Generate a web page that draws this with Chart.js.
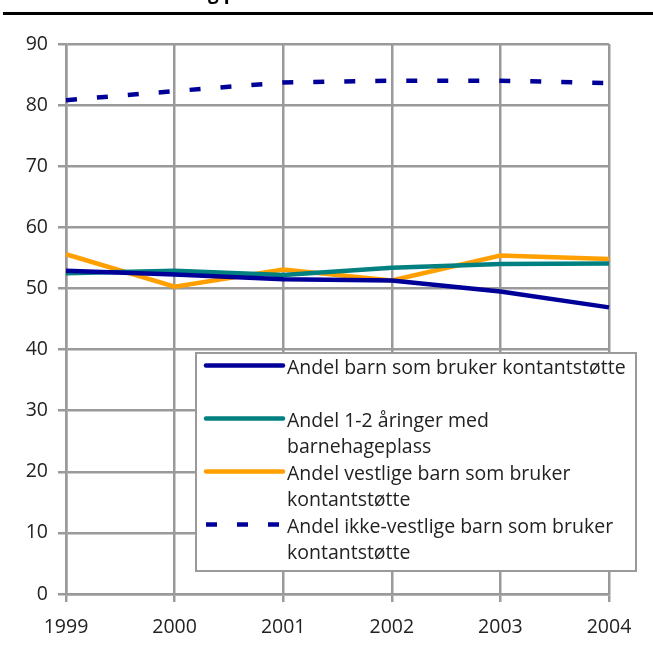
<!DOCTYPE html>
<html>
<head>
<meta charset="utf-8">
<script src="https://cdn.jsdelivr.net/npm/chart.js@4"></script>
<style>
  html, body { margin: 0; padding: 0; background: #fff; }
  #wrap { width: 653px; height: 648px; position: relative; }
</style>
</head>
<body>
<div id="wrap"><canvas id="lineChart"></canvas></div>
<script>
let years = ['1999', '2000', '2001', '2002', '2003', '2004'];
let kontant = [52.9, 52.3, 51.5, 51.3, 49.5, 46.9];
let barnehage = [52.5, 52.9, 52.2, 53.4, 54.0, 54.1];
let vestlige = [55.6, 50.3, 53.1, 51.3, 55.4, 54.8];
let ikkeVestlige = [80.8, 82.3, 83.7, 84.0, 84.0, 83.6];

let labels1 = [
  'Andel barn som bruker kontantstøtte\n',
  'Andel 1-2 åringer med\nbarnehageplass',
  'Andel vestlige barn som bruker\nkontantstøtte',
  'Andel ikke-vestlige barn som bruker\nkontantstøtte'
];
let colors1 = ['#000099', '#008080', '#ffa000', '#000099'];

let fontName = '"Open Sans", "Noto Sans", sans-serif';
let gridColor = '#9a9a9a';

// title sits above the top edge, only the rule and descenders show
let titlePlugin = {
  id: 'topTitle',
  afterDraw(chart) {
    let ctx = chart.ctx;
    ctx.save();
    ctx.font = 'bold 19px ' + fontName;
    ctx.fillStyle = '#000';
    ctx.textBaseline = 'alphabetic';
    let x = 208 - ctx.measureText('Utviklin').width;
    ctx.fillText('Utvikling på', x, -1);
    ctx.fillRect(3, 12, 650, 3);
    ctx.restore();
  }
};

// boxed legend with wrapped labels
let boxLegend = {
  id: 'boxLegend',
  afterDraw(chart) {
    let ctx = chart.ctx;
    let x0 = 196, y0 = 353, w = 440, h = 218;
    let rowH = 26.5, firstRow = 368;
    ctx.save();
    ctx.fillStyle = '#fff';
    ctx.fillRect(x0, y0, w, h);
    ctx.strokeStyle = gridColor;
    ctx.lineWidth = 2;
    ctx.strokeRect(x0, y0, w, h);
    ctx.font = '19.5px ' + fontName;
    ctx.fillStyle = '#222';
    ctx.textBaseline = 'middle';
    let row = 0;
    chart.data.datasets.forEach(ds => {
      let lines = ds.label.split('\n');
      let y = firstRow + row * rowH;
      ctx.beginPath();
      ctx.strokeStyle = ds.borderColor;
      ctx.lineWidth = 4.5;
      ctx.lineCap = ds.borderDash ? 'butt' : 'round';
      ctx.setLineDash(ds.borderDash || []);
      ctx.moveTo(206, y - 2.5);
      ctx.lineTo(283, y - 2.5);
      ctx.stroke();
      ctx.setLineDash([]);
      lines.forEach((t, i) => ctx.fillText(t, 287, y + i * rowH));
      row += lines.length;
    });
    ctx.restore();
  }
};

let myChart1 = document.getElementById('lineChart').getContext('2d');

let options = {
  responsive: true,
  maintainAspectRatio: false,
  animation: false,
  layout: { padding: { top: 44, right: 44, left: 0, bottom: 0 } },
  plugins: { legend: { display: false }, tooltip: { enabled: false } },
  elements: {
    point: { radius: 0 },
    line: { tension: 0, borderWidth: 4.5 }
  },
  scales: {
    x: {
      offset: false,
      grid: { color: gridColor, lineWidth: 2.5, tickLength: 8 },
      border: { color: gridColor, width: 2.5 },
      ticks: { color: '#222', font: { family: fontName, size: 19.5 }, padding: 14, maxRotation: 0 },
      afterFit(scale) { scale.height = 54; }
    },
    y: {
      min: 0,
      max: 90,
      grid: { color: gridColor, lineWidth: 2.5, tickLength: 8 },
      border: { color: gridColor, width: 2.5 },
      ticks: { stepSize: 10, color: '#222', font: { family: fontName, size: 19.5 }, padding: 10 },
      afterFit(scale) { scale.width = 66; }
    }
  }
};

let chart = new Chart(myChart1, {
  type: 'line',
  data: {
    labels: years,
    datasets: [
      { label: labels1[0], data: kontant, borderColor: colors1[0], backgroundColor: colors1[0] },
      { label: labels1[1], data: barnehage, borderColor: colors1[1], backgroundColor: colors1[1] },
      { label: labels1[2], data: vestlige, borderColor: colors1[2], backgroundColor: colors1[2] },
      { label: labels1[3], data: ikkeVestlige, borderColor: colors1[3], backgroundColor: colors1[3],
        borderDash: [11, 20], borderCapStyle: 'butt' }
    ]
  },
  options: options,
  plugins: [titlePlugin, boxLegend]
});
</script>
</body>
</html>
